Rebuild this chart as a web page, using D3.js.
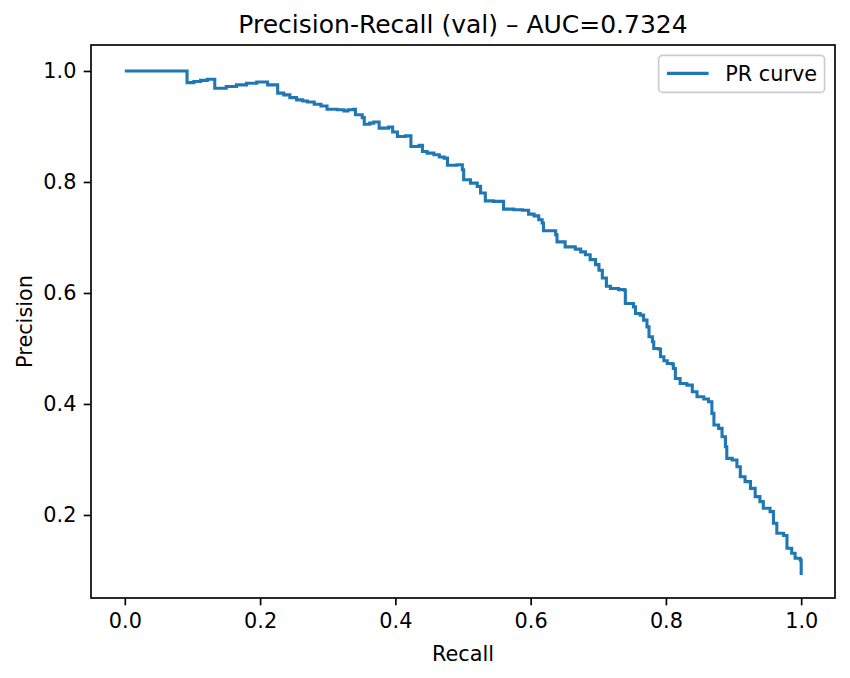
<!DOCTYPE html>
<html>
<head>
<meta charset="utf-8">
<script src="https://cdn.jsdelivr.net/npm/d3@7"></script>
<style>
  body { margin: 0; background: #fff; }
  svg text { font-family: "DejaVu Sans", sans-serif; fill: #000; }
</style>
</head>
<body>
<div id="chart"></div>
<script>
// PR curve points (recall, precision), step-after order
var recall = [0.000, 0.092, 0.102, 0.112, 0.122, 0.133, 0.150, 0.165, 0.180, 0.195,
  0.211, 0.226, 0.235, 0.244, 0.254, 0.263, 0.270, 0.280, 0.290, 0.299,
  0.314, 0.324, 0.330, 0.338, 0.341, 0.351, 0.354, 0.362, 0.368, 0.376,
  0.390, 0.396, 0.403, 0.415, 0.423, 0.435, 0.440, 0.447, 0.457, 0.465,
  0.472, 0.477, 0.491, 0.499, 0.501, 0.511, 0.521, 0.526, 0.533, 0.545,
  0.560, 0.575, 0.588, 0.597, 0.605, 0.612, 0.617, 0.619, 0.632, 0.637,
  0.639, 0.647, 0.651, 0.666, 0.674, 0.681, 0.688, 0.696, 0.701, 0.706,
  0.712, 0.718, 0.730, 0.739, 0.740, 0.752, 0.755, 0.762, 0.767, 0.772,
  0.775, 0.780, 0.782, 0.789, 0.792, 0.797, 0.802, 0.809, 0.811, 0.814,
  0.821, 0.831, 0.839, 0.846, 0.856, 0.863, 0.868, 0.871, 0.878, 0.883,
  0.888, 0.890, 0.898, 0.905, 0.910, 0.917, 0.925, 0.932, 0.939, 0.944,
  0.954, 0.959, 0.964, 0.974, 0.979, 0.986, 0.991, 0.9985, 1.000];
var precision = [1.000, 0.979, 0.981, 0.983, 0.985, 0.969, 0.972, 0.975, 0.978, 0.980,
  0.975, 0.960, 0.957, 0.952, 0.948, 0.946, 0.944, 0.940, 0.937, 0.931,
  0.930, 0.928, 0.930, 0.931, 0.921, 0.916, 0.904, 0.906, 0.908, 0.897,
  0.899, 0.890, 0.882, 0.883, 0.864, 0.866, 0.855, 0.852, 0.849, 0.845,
  0.843, 0.830, 0.831, 0.822, 0.804, 0.798, 0.792, 0.780, 0.766, 0.765,
  0.751, 0.750, 0.749, 0.742, 0.739, 0.732, 0.726, 0.712, 0.712, 0.705,
  0.692, 0.692, 0.683, 0.679, 0.674, 0.669, 0.660, 0.651, 0.641, 0.627,
  0.612, 0.608, 0.606, 0.605, 0.581, 0.575, 0.563, 0.560, 0.551, 0.539,
  0.521, 0.512, 0.500, 0.499, 0.485, 0.478, 0.473, 0.472, 0.464, 0.446,
  0.437, 0.434, 0.422, 0.413, 0.409, 0.404, 0.383, 0.362, 0.356, 0.341,
  0.323, 0.302, 0.299, 0.287, 0.269, 0.260, 0.248, 0.233, 0.224, 0.212,
  0.206, 0.185, 0.167, 0.163, 0.140, 0.131, 0.122, 0.119, 0.092];

var xTicks = [0.0, 0.2, 0.4, 0.6, 0.8, 1.0];
var yTicks = [0.2, 0.4, 0.6, 0.8, 1.0];
var titleText = "Precision-Recall (val) \u2013 AUC=0.7324";
var seriesName = "PR curve";

var width = 850, height = 678;
var margin = {left: 91, right: 15, top: 45, bottom: 80};
var plotW = width - margin.left - margin.right;
var plotH = height - margin.top - margin.bottom;
var fontPx = 20.8;   // 10pt at 150 dpi
var tickLen = 7.3;
var blue = "#1f77b4";

var svg = d3.select("#chart").append("svg").attr("width", width).attr("height", height);
var g = svg.append("g").attr("transform", "translate(" + margin.left + "," + margin.top + ")");

var x = d3.scaleLinear().domain([-0.05, 1.05]).range([0, plotW]);
var y = d3.scaleLinear().domain([0.0504, 1.0468]).range([plotH, 0]);

var points = recall.map(function(r, i) { return [r, precision[i]]; });

// the curve
var line = d3.line()
    .x(function(d) { return x(d[0]); })
    .y(function(d) { return y(d[1]); })
    .curve(d3.curveStepAfter);

g.append("path")
    .datum(points)
    .attr("d", line)
    .attr("fill", "none")
    .attr("stroke", blue)
    .attr("stroke-width", 3.1)
    .attr("stroke-linejoin", "miter")
    .attr("stroke-linecap", "butt");

// axes
var xAxis = g.append("g")
    .attr("transform", "translate(0," + plotH + ")")
    .call(d3.axisBottom(x).tickValues(xTicks).tickFormat(d3.format(".1f")).tickSize(tickLen).tickPadding(7.3));
var yAxis = g.append("g")
    .call(d3.axisLeft(y).tickValues(yTicks).tickFormat(d3.format(".1f")).tickSize(tickLen).tickPadding(7.3));

[xAxis, yAxis].forEach(function(a) {
    a.select(".domain").remove();
    a.selectAll(".tick line").attr("stroke", "#000").attr("stroke-width", 1.67);
    a.selectAll(".tick text").attr("font-size", fontPx + "px").attr("font-family", "DejaVu Sans");
});
xAxis.selectAll(".tick text").attr("dy", "0.76em");

// frame
g.append("rect")
    .attr("x", 0).attr("y", 0)
    .attr("width", plotW).attr("height", plotH)
    .attr("fill", "none")
    .attr("stroke", "#000")
    .attr("stroke-width", 1.67);

// title and axis labels
svg.append("text")
    .attr("x", margin.left + plotW / 2)
    .attr("y", 33)
    .attr("text-anchor", "middle")
    .attr("font-size", "25px")
    .text(titleText);

svg.append("text")
    .attr("x", margin.left + plotW / 2)
    .attr("y", 661)
    .attr("text-anchor", "middle")
    .attr("font-size", fontPx + "px")
    .text("Recall");

svg.append("text")
    .attr("transform", "translate(32," + (margin.top + plotH / 2) + ") rotate(-90)")
    .attr("text-anchor", "middle")
    .attr("font-size", fontPx + "px")
    .text("Precision");

// legend
var legend = g.append("g").attr("transform", "translate(" + (plotW - 10.4 - 166) + ",10.4)");
legend.append("rect")
    .attr("width", 166).attr("height", 37)
    .attr("rx", 4).attr("ry", 4)
    .attr("fill", "#fff").attr("fill-opacity", 0.8)
    .attr("stroke", "#cccccc").attr("stroke-width", 1.67);
legend.append("line")
    .attr("x1", 8.3).attr("x2", 50)
    .attr("y1", 18).attr("y2", 18)
    .attr("stroke", blue).attr("stroke-width", 3.1);
legend.append("text")
    .attr("x", 66.6).attr("y", 25.5)
    .attr("font-size", fontPx + "px")
    .text(seriesName);
</script>
</body>
</html>
